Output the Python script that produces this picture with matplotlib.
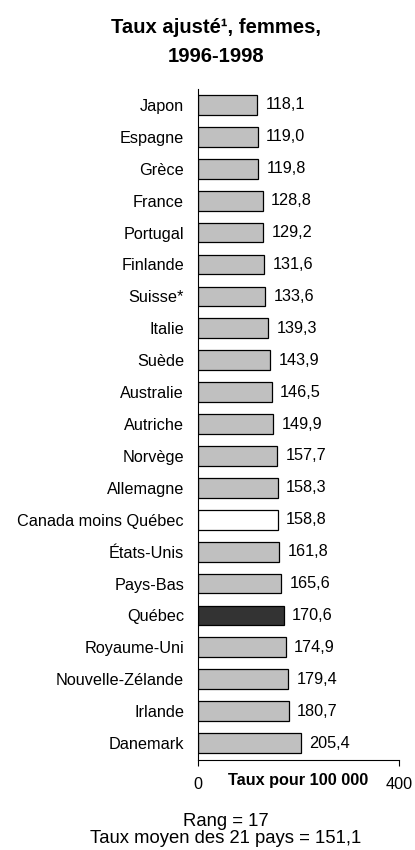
import matplotlib
matplotlib.use("Agg")
import matplotlib.pyplot as plt

plt.rcParams['font.family'] = ['Liberation Sans', 'DejaVu Sans']

# Données
pays = ["Japon", "Espagne", "Grèce", "France", "Portugal", "Finlande", "Suisse*",
        "Italie", "Suède", "Australie", "Autriche", "Norvège", "Allemagne",
        "Canada moins Québec", "États-Unis", "Pays-Bas", "Québec", "Royaume-Uni",
        "Nouvelle-Zélande", "Irlande", "Danemark"]
taux = [118.1, 119.0, 119.8, 128.8, 129.2, 131.6, 133.6, 139.3, 143.9, 146.5,
        149.9, 157.7, 158.3, 158.8, 161.8, 165.6, 170.6, 174.9, 179.4, 180.7, 205.4]
x_ticks = [0, 400]
rang = 17
taux_moyen = 151.1
n_pays = 21

couleurs = []
for p in pays:
    if p == "Québec":
        couleurs.append("#333333")
    elif p == "Canada moins Québec":
        couleurs.append("white")
    else:
        couleurs.append("#c0c0c0")

fig = plt.figure(figsize=(4.15, 8.5), dpi=100, facecolor='white')
ax = fig.add_axes([198 / 415, 1 - 760 / 850, 201 / 415, 671 / 850])

y = list(range(len(pays)))
ax.barh(y, taux, height=0.62, color=couleurs, edgecolor='black', linewidth=0.9)

# Valeurs à droite des barres
for yi, v in zip(y, taux):
    ax.annotate(f"{v:.1f}".replace(".", ","), (v, yi), xytext=(6, 0),
                textcoords='offset points', va='center', ha='left', fontsize=11.7)

ax.set_xlim(0, 400)
ax.set_ylim(len(pays) - 0.47, -0.5)
ax.set_yticks(y)
ax.set_yticklabels(pays, fontsize=11.7)
ax.tick_params(axis='y', length=0, pad=10)
ax.set_xticks(x_ticks)
ax.set_xticklabels([str(t) for t in x_ticks], fontsize=11.7)
ax.tick_params(axis='x', length=4, direction='out', pad=8)

ax.text(0.5, -0.0373, "Taux pour 100 000", transform=ax.transAxes, ha='center',
        va='baseline', fontsize=11.7, fontweight='bold')

ax.spines['top'].set_visible(False)
ax.spines['right'].set_visible(False)
ax.spines['left'].set_color('black')
ax.spines['bottom'].set_color('black')

# Titre
fig.text(216 / 415, 1 - 33 / 850, "Taux ajusté¹, femmes,", ha='center', va='baseline',
         fontsize=14.6, fontweight='bold')
fig.text(216 / 415, 1 - 62 / 850, "1996-1998", ha='center', va='baseline',
         fontsize=14.6, fontweight='bold')

# Notes du bas
fig.text(226 / 415, 1 - 826 / 850, f"Rang = {rang}", ha='center', va='baseline', fontsize=13.3)
fig.text(226 / 415, 1 - 843 / 850,
         f"Taux moyen des {n_pays} pays = {taux_moyen:.1f}".replace(".", ","),
         ha='center', va='baseline', fontsize=13.3)

fig.savefig("out.png", dpi=100)
plt.close(fig)
